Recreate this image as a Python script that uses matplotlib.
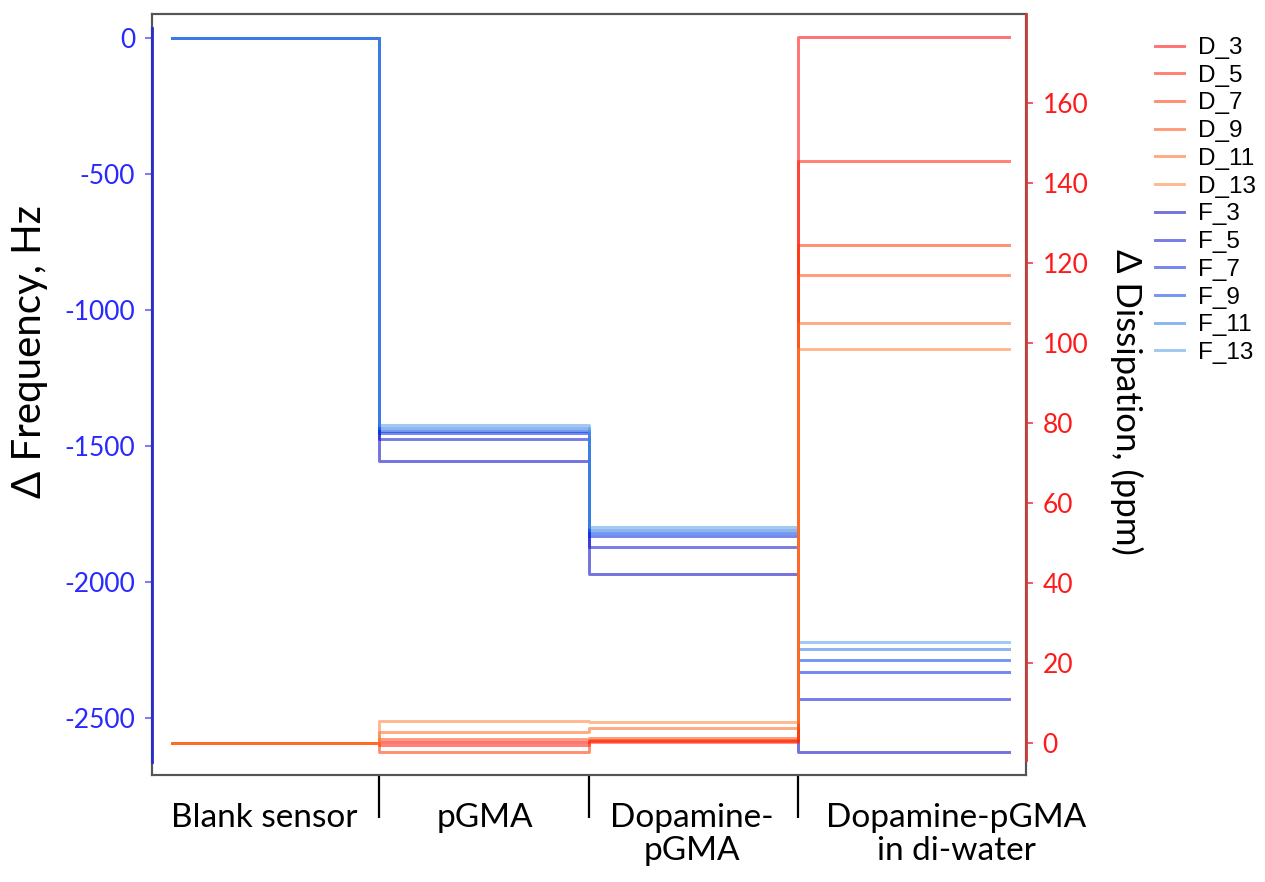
import numpy as np
import matplotlib
matplotlib.use("Agg")
import matplotlib.pyplot as plt

plt.rcParams['font.family'] = ['Lato', 'DejaVu Sans']
plt.rcParams['axes.unicode_minus'] = False

# time breakpoints (arbitrary units) for the four stages
t_edges = [2.3, 26.0, 50.0, 73.9, 98.0]
stages = ["Blank sensor", "pGMA", "Dopamine-\npGMA", "Dopamine-pGMA\nin di-water"]
stage_centers = [12.8, 38.1, 61.8, 92.0]

# frequency shift per stage (Hz)
f_labels = ["F_3", "F_5", "F_7", "F_9", "F_11", "F_13"]
f3 = [0, -1555, -1971, -2625]
f5 = [0, -1474, -1872, -2430]
f7 = [0, -1452, -1831, -2331]
f9 = [0, -1445, -1820, -2287]
f11 = [0, -1434, -1809, -2246]
f13 = [0, -1423, -1798, -2221]

# dissipation shift per stage (ppm)
d_labels = ["D_3", "D_5", "D_7", "D_9", "D_11", "D_13"]
d3 = [0, 0.2, 0.5, 176.5]
d5 = [0, -0.5, 0.8, 145.5]
d7 = [0, -2.2, 0.3, 124.5]
d9 = [0, 1.0, 1.2, 117.0]
d11 = [0, 2.8, 3.8, 105.0]
d13 = [0, 5.5, 5.2, 98.5]

f_colors = ["#0000bf", "#0a10d2", "#0025e4", "#0040e4", "#2e77e4", "#529be4"]
d_colors = ["#ff0000", "#ff1a00", "#ff3300", "#ff4d0d", "#ff661a", "#ff8033"]

fig = plt.figure(figsize=(12.65, 8.82), dpi=100)
ax = fig.add_axes([152/1265, 1-775/882, 874/1265, 761/882])
ax2 = ax.twinx()

lines = []
for lab, vals, c in zip(d_labels, [d3, d5, d7, d9, d11, d13], d_colors):
    l, = ax2.plot(t_edges, vals + [vals[-1]], drawstyle='steps-post',
                  color=c, alpha=0.55, lw=2.1, label=lab)
    lines.append(l)
for lab, vals, c in zip(f_labels, [f3, f5, f7, f9, f11, f13], f_colors):
    l, = ax.plot(t_edges, vals + [vals[-1]], drawstyle='steps-post',
                 color=c, alpha=0.55, lw=2.1, label=lab)
    lines.append(l)

ax.set_xlim(0, 100)
ax.set_ylim(-2710, 88)
ax2.set_ylim(-8, 182.25)

ax.set_yticks([0, -500, -1000, -1500, -2000, -2500])
ax2.set_yticks([0, 20, 40, 60, 80, 100, 120, 140, 160])
ax.tick_params(axis='y', colors='#8080f0', labelcolor='#2828ff', labelsize=19,
               length=5, width=1.5, pad=7)
ax2.tick_params(axis='y', colors='#f06060', labelcolor='#ff1a1a', labelsize=19,
                length=5, width=1.5, pad=7)

# stage boundaries as long ticks, stage names centered between them
ax.set_xticks(t_edges[1:4])
ax.set_xticklabels([])
ax.tick_params(axis='x', which='major', length=31, width=1.6, color='black')
ax.set_xticks(stage_centers, minor=True)
ax.set_xticklabels(stages, minor=True, fontsize=24, linespacing=1.15)
ax.tick_params(axis='x', which='minor', length=0, pad=20)

for a in (ax, ax2):
    for s in a.spines.values():
        s.set_color('#555555')
        s.set_linewidth(1.5)
# coloured axis lines over the data range
ax2.plot([0, 0], [0.017, 0.982], transform=ax2.transAxes, color='#2a2ad0', lw=2,
         clip_on=False, zorder=5)
ax2.plot([1, 1], [0.02, 1.0], transform=ax2.transAxes, color='#c83c3c', lw=2,
         clip_on=False, zorder=5)

fig.text(30/1265, 1-352/882, "Δ Frequency, Hz", rotation=90, ha='center', va='center', fontsize=29)
fig.text(1127/1265, 1-402/882, "Δ Dissipation, (ppm)", rotation=270, ha='center', va='center', fontsize=25)

fig.legend(handles=lines, loc='upper left', bbox_to_anchor=(1155/1265, 1-37/882),
           frameon=False, prop={'family': 'Liberation Sans', 'size': 17.5},
           handlelength=1.2, labelspacing=0.235, handletextpad=0.55,
           borderaxespad=0, borderpad=0)

fig.savefig("out.png", dpi=100)
